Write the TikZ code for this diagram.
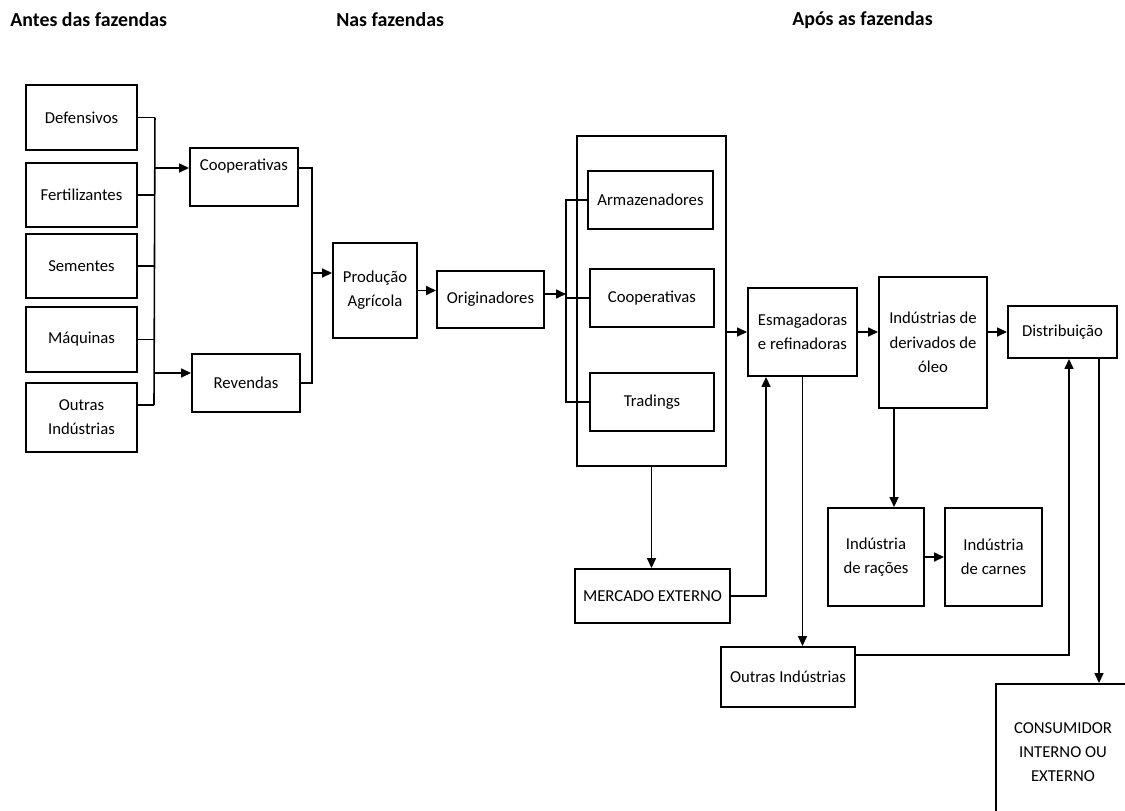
\documentclass[tikz,border=0pt]{standalone}
\usepackage{fontspec}
\setmainfont{Carlito}
\usetikzlibrary{arrows.meta,calc}
\tikzset{
  box/.style = {draw, line width=1.1pt, inner sep=1pt, align=center,
    font=\fontsize{9.5}{13.8}\selectfont},
  frame/.style = {draw, line width=0.8pt},
  sz/.style 2 args = {minimum width={#1*0.2mm}, minimum height={#2*0.2mm}},
  head/.style = {anchor=west, inner sep=0pt,
    font=\fontsize{11.3}{13}\selectfont\bfseries},
  link/.style = {line width=0.9pt},
  flow/.style = {link, -{Triangle[length=2mm,width=1.8mm]}}
}

\begin{document}
\begin{tikzpicture}[x=0.2mm,y=-0.2mm]
  \clip (0,0) rectangle (1125,810);
  % headings
  \node[head] (hAntes) at (10,20) {Antes das fazendas};
  \node[head] (hNas) at (336,20) {Nas fazendas};
  \node[head] (hApos) at (792,20) {Após as fazendas};
  % before the farms
  \node[box,sz={111}{65}] (def) at (81.5,117.5) {Defensivos};
  \node[box,sz={111}{64}] (fer) at (81.5,195) {Fertilizantes};
  \node[box,sz={111}{64}] (sem) at (81.5,266) {Sementes};
  \node[box,sz={111}{65}] (maq) at (81.5,339.5) {Máquinas};
  \node[box,sz={111}{69}] (out) at (81.5,417.5) {Outras\\Indústrias};
  \node[box,sz={108}{58}] (coopA) at (244,177) {Cooperativas\\\phantom{x}};
  \node[box,sz={108}{58}] (rev) at (246,383) {Revendas};
  % farms
  \node[box,sz={84}{95}] (prod) at (375,290.5) {Produção\\Agrícola};
  \node[box,sz={107}{57}] (orig) at (490.5,299.5) {Originadores};
  \node[frame,sz={149}{330}] (cont) at (651.5,301) {};
  \node[box,sz={125}{58}] (arm) at (650.5,200) {Armazenadores};
  \node[box,sz={124}{58}] (coopB) at (652,298) {Cooperativas};
  \node[box,sz={124}{58}] (trad) at (652,402) {Tradings};
  % after the farms
  \node[box,sz={109}{88}] (esm) at (802.5,332) {Esmagadoras\\e refinadoras};
  \node[box,sz={108}{131}] (der) at (933,342.5) {Indústrias de\\derivados de\\óleo};
  \node[box,sz={109}{52}] (dist) at (1062.5,332) {Distribuição};
  \node[box,sz={155}{54}] (merc) at (652.5,596) {MERCADO EXTERNO};
  \node[box,sz={96}{98}] (rac) at (876,557) {Indústria\\de rações};
  \node[box,sz={97}{98}] (carn) at (993.5,557) {Indústria\\de carnes};
  \node[box,sz={134}{60}] (outB) at (788,677) {Outras Indústrias};
  \node[box,sz={134}{136}] (cons) at (1063,752) {CONSUMIDOR\\INTERNO OU\\EXTERNO};
  %
  \coordinate (bT) at ($(def.east)+(17,0)$);
  \coordinate (bB) at (154,405);
  \coordinate (cIn) at (154,168);
  \coordinate (rIn) at (154,373);
  \coordinate (pJ) at (312,273);
  \coordinate (oX) at (566,294);
  \coordinate (eIn) at ($(esm.south west)+(19,0)$);
  \coordinate (dDown) at ($(der.south west)+(16,0)$);
  \coordinate (oUp) at ($(outB.north east)+(0,9)$);
  \coordinate (dIn) at ($(dist.south)+(6.5,0)$);
  \coordinate (dOut) at ($(dist.south)+(36.5,0)$);
  % inputs to cooperatives and resellers
  \draw[link] (bT) -- (bB);
  \foreach \n in {def,fer,sem,maq}
    \draw[link] (\n.east) -- (\n.east -| bT);
  \draw[link] (bB -| out.east) -- (bB);
  \draw[flow] (cIn) -- (cIn -| coopA.west);
  \draw[flow] (rIn) -- (rIn -| rev.west);
  \draw[link] (coopA.east |- cIn) -| (pJ) |- (rev.east);
  \draw[flow] (pJ) -- (pJ -| prod.west);
  % farm chain
  \draw[flow] (prod.east) -- (prod.east -| orig.west);
  \draw[flow] (orig.east |- oX) -- (oX);
  \draw[link] (arm.west) -| (trad.west -| oX) -- (trad.west);
  \draw[link] (coopB.west) -- (coopB.west -| oX);
  \draw[flow] (cont.east |- esm.west) -- (esm.west);
  \draw[flow] (cont.south) -- (cont.south |- merc.north);
  % processing
  \draw[flow] (esm.east) -- (esm.east -| der.west);
  \draw[flow] (der.east |- dist.west) -- (dist.west);
  \draw[flow] (merc.east) -| (eIn);
  \draw[flow] (esm.south) -- (esm.south |- outB.north);
  \draw[flow] (dDown) -- (dDown |- rac.north);
  \draw[flow] (rac.east) -- (carn.west);
  \draw[flow] (oUp) -| (dIn);
  \draw[flow] (dOut) -- (dOut |- cons.north);
\end{tikzpicture}
\end{document}
